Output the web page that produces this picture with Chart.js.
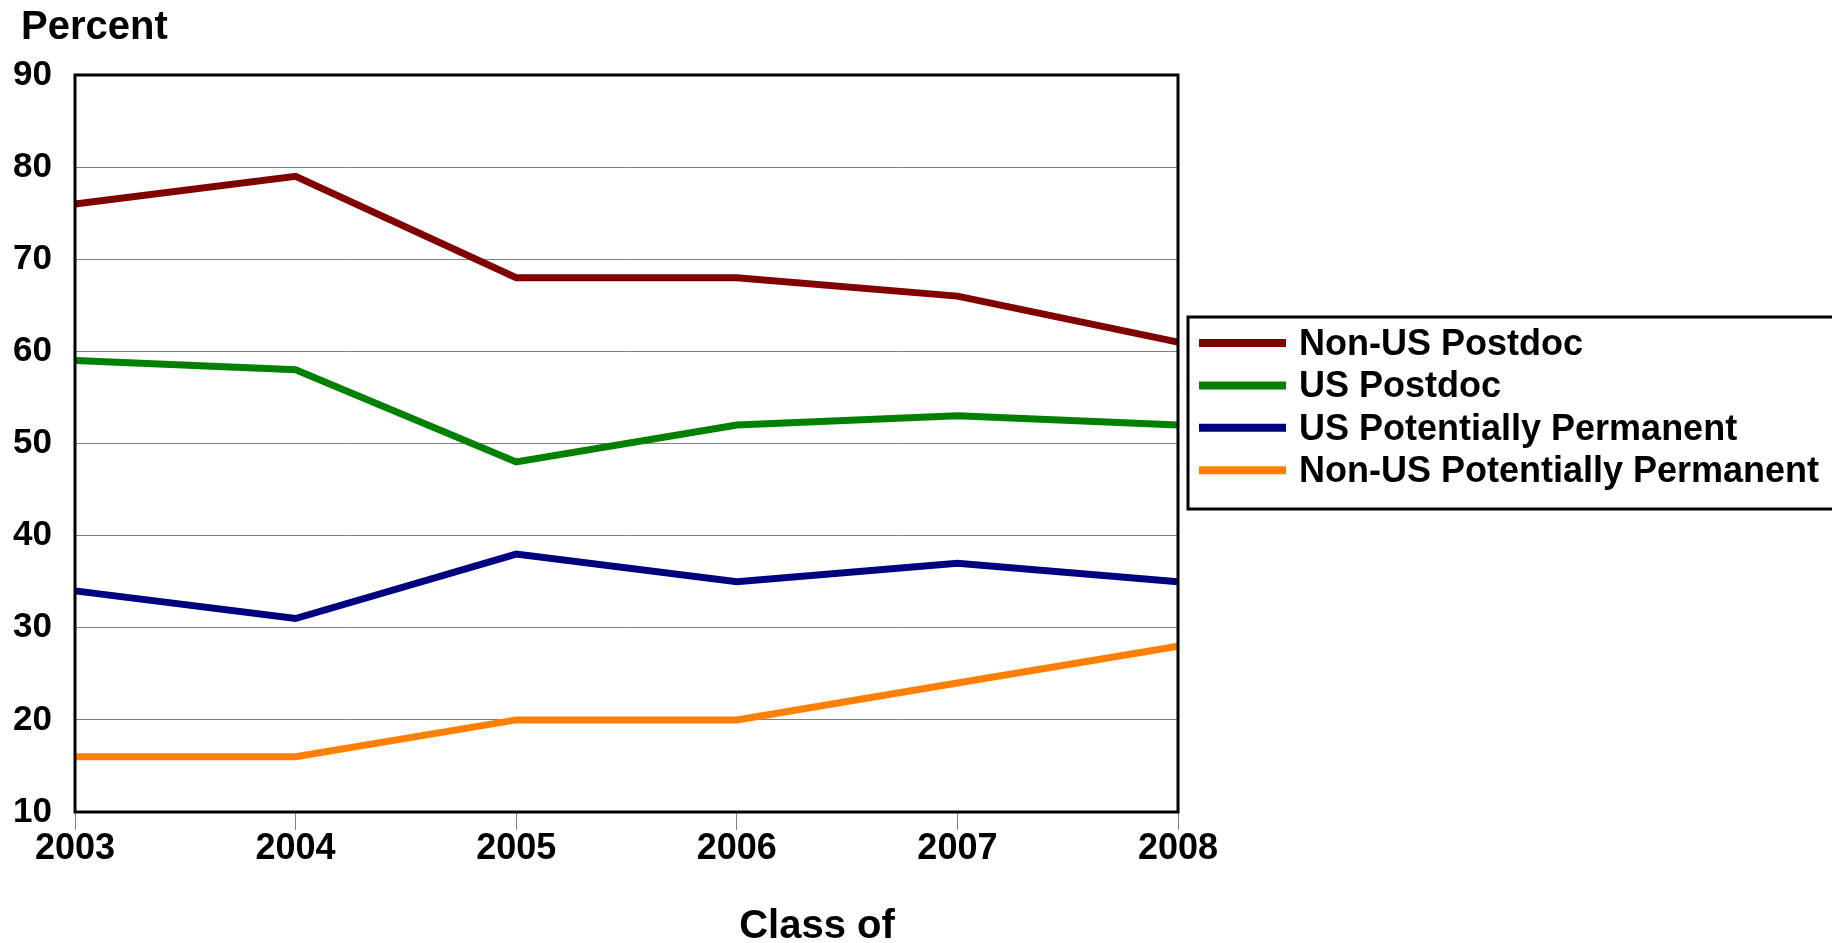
<!DOCTYPE html>
<html>
<head>
<meta charset="utf-8">
<script src="https://cdn.jsdelivr.net/npm/chart.js@4"></script>
<style>
  html, body { margin: 0; padding: 0; background: #fff; }
  canvas { display: block; }
</style>
</head>
<body>
<canvas id="chart" width="1832" height="943"></canvas>
<script>
/*=============== DATA ===============*/
const years = ['2003', '2004', '2005', '2006', '2007', '2008'];
const nonUsPostdoc = [76, 79, 68, 68, 66, 61];
const usPostdoc = [59, 58, 48, 52, 53, 52];
const usPermanent = [34, 31, 38, 35, 37, 35];
const nonUsPermanent = [16, 16, 20, 20, 24, 28];
const seriesNames = ['Non-US Postdoc', 'US Postdoc', 'US Potentially Permanent', 'Non-US Potentially Permanent'];
const seriesColors = ['#800000', '#008000', '#000080', '#ff8000'];

const FONT = "'Liberation Sans', Arial, Helvetica, sans-serif";

/*=============== EXTRAS: frame, titles, legend box ===============*/
const extras = {
  id: 'extras',
  afterDatasetsDraw(chart) {
    const { ctx, chartArea: a } = chart;
    ctx.save();
    // plot frame
    ctx.strokeStyle = '#000';
    ctx.lineWidth = 3;
    ctx.strokeRect(a.left, a.top, a.right - a.left, a.bottom - a.top);

    // axis titles
    ctx.fillStyle = '#000';
    ctx.font = `bold 40px ${FONT}`;
    ctx.textAlign = 'left';
    ctx.textBaseline = 'middle';
    ctx.fillText('Percent', 21, 28);
    ctx.textAlign = 'center';
    ctx.fillText('Class of', 817, 927);

    // legend
    const bx = 1188, by = 317, bw = 660, bh = 192;
    ctx.lineWidth = 3;
    ctx.strokeRect(bx, by, bw, bh);
    ctx.font = `bold 36px ${FONT}`;
    ctx.textAlign = 'left';
    chart.data.datasets.forEach((ds, i) => {
      const y = 343 + i * 42.4;
      ctx.strokeStyle = ds.borderColor;
      ctx.lineWidth = 8;
      ctx.beginPath();
      ctx.moveTo(1199, y);
      ctx.lineTo(1286, y);
      ctx.stroke();
      ctx.fillStyle = '#000';
      ctx.fillText(ds.label, 1299, y + 2);
    });
    ctx.restore();
  }
};

/*=============== CHART ===============*/
const values = [nonUsPostdoc, usPostdoc, usPermanent, nonUsPermanent];
const ctx = document.getElementById('chart').getContext('2d');

new Chart(ctx, {
  type: 'line',
  data: {
    labels: years,
    datasets: values.map((v, i) => ({
      label: seriesNames[i],
      data: v,
      borderColor: seriesColors[i],
      backgroundColor: seriesColors[i],
      borderWidth: 7,
      pointRadius: 0,
      tension: 0
    }))
  },
  options: {
    responsive: false,
    animation: false,
    devicePixelRatio: 1,
    layout: { padding: { top: 75, right: 654, left: 0, bottom: 0 } },
    plugins: { legend: { display: false }, tooltip: { enabled: false } },
    scales: {
      x: {
        afterFit: s => { s.height = 131; },
        grid: { drawOnChartArea: false, tickLength: 18, color: '#808080', lineWidth: 1 },
        border: { display: false },
        ticks: { color: '#000', font: { family: FONT, size: 36, weight: 'bold' }, padding: -3, maxRotation: 0 }
      },
      y: {
        min: 10,
        max: 90,
        afterFit: s => { s.width = 75; },
        grid: { color: '#808080', lineWidth: 1, drawTicks: false },
        border: { display: false },
        ticks: { stepSize: 10, color: '#000', font: { family: FONT, size: 35, weight: 'bold' }, padding: 23 }
      }
    }
  },
  plugins: [extras]
});
</script>
</body>
</html>
